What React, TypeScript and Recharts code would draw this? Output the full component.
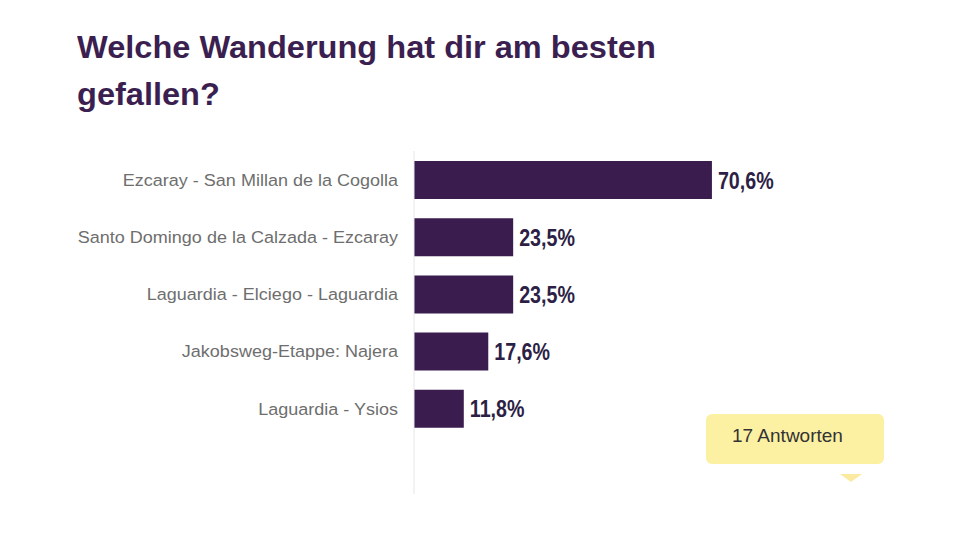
import { Bar, BarChart, LabelList, XAxis, YAxis } from "recharts";

const title = ["Welche Wanderung hat dir am besten", "gefallen?"];
const routes = [
  "Ezcaray - San Millan de la Cogolla",
  "Santo Domingo de la Calzada - Ezcaray",
  "Laguardia - Elciego - Laguardia",
  "Jakobsweg-Etappe: Najera",
  "Laguardia - Ysios",
];
const shares = [70.6, 23.5, 23.5, 17.6, 11.8];
const answerCount = 17;

const data = routes.map((name, i) => ({ name, share: shares[i] }));

const PURPLE = "#3a1d4e";
const FONT = "'Liberation Sans', Arial, Helvetica, sans-serif";

const fmt = (v: number) => `${v.toFixed(1).replace(".", ",")}%`;

const RouteTick = (props: any) => {
  const { x, y, payload } = props;
  return (
    <text
      transform={`translate(${x},${y}) scale(1.06,1)`}
      dy="0.36em"
      textAnchor="end"
      fontSize={17}
      fill="#6e6e6e"
      fontFamily={FONT}
    >
      {payload.value}
    </text>
  );
};

const ValueLabel = (props: any) => {
  const { x, y, width, height, value } = props;
  return (
    <text
      transform={`translate(${x + width + 6},${y + height / 2}) scale(0.82,1)`}
      dy="0.36em"
      fontSize={24}
      fontWeight="bold"
      fill="#2d1f45"
      fontFamily={FONT}
    >
      {fmt(value)}
    </text>
  );
};

export default function App() {
  return (
    <div
      style={{
        position: "absolute",
        left: 0,
        top: 0,
        width: 960,
        height: 540,
        background: "#fff",
        fontFamily: FONT,
        overflow: "hidden",
      }}
    >
      <div
        style={{
          position: "absolute",
          left: 77,
          top: 24,
          fontSize: 31,
          lineHeight: "47px",
          fontWeight: "bold",
          color: "#3b1f50",
          transform: "scaleX(1.05)",
          transformOrigin: "left top",
          whiteSpace: "nowrap",
        }}
      >
        {title.map((t) => (
          <div key={t}>{t}</div>
        ))}
      </div>

      <div style={{ position: "absolute", left: 0, top: 0 }}>
        <BarChart
          width={960}
          height={540}
          data={data}
          layout="vertical"
          margin={{ top: 151, right: 124, left: 0, bottom: 46 }}
        >
          <XAxis type="number" domain={[0, 100]} hide />
          <YAxis
            type="category"
            dataKey="name"
            width={414}
            tickSize={0}
            tickMargin={16}
            tickLine={false}
            axisLine={{ stroke: "#e6e6e6", strokeWidth: 1 }}
            padding={{ top: 0, bottom: 57 }}
            tick={<RouteTick />}
            interval={0}
          />
          <Bar dataKey="share" fill={PURPLE} barSize={38} isAnimationActive={false}>
            <LabelList dataKey="share" content={<ValueLabel />} />
          </Bar>
        </BarChart>
      </div>

      <div
        style={{
          position: "absolute",
          left: 706,
          top: 414,
          width: 178,
          height: 50,
          borderRadius: 6,
          background: "#fcf0a3",
          boxSizing: "border-box",
          paddingLeft: 26,
          paddingTop: 11,
          fontSize: 19,
          color: "#333",
        }}
      >
        {answerCount} Antworten
      </div>
      <div
        style={{
          position: "absolute",
          left: 840,
          top: 474,
          width: 0,
          height: 0,
          borderLeft: "11px solid transparent",
          borderRight: "11px solid transparent",
          borderTop: "8px solid #fbeaa0",
        }}
      />
    </div>
  );
}
